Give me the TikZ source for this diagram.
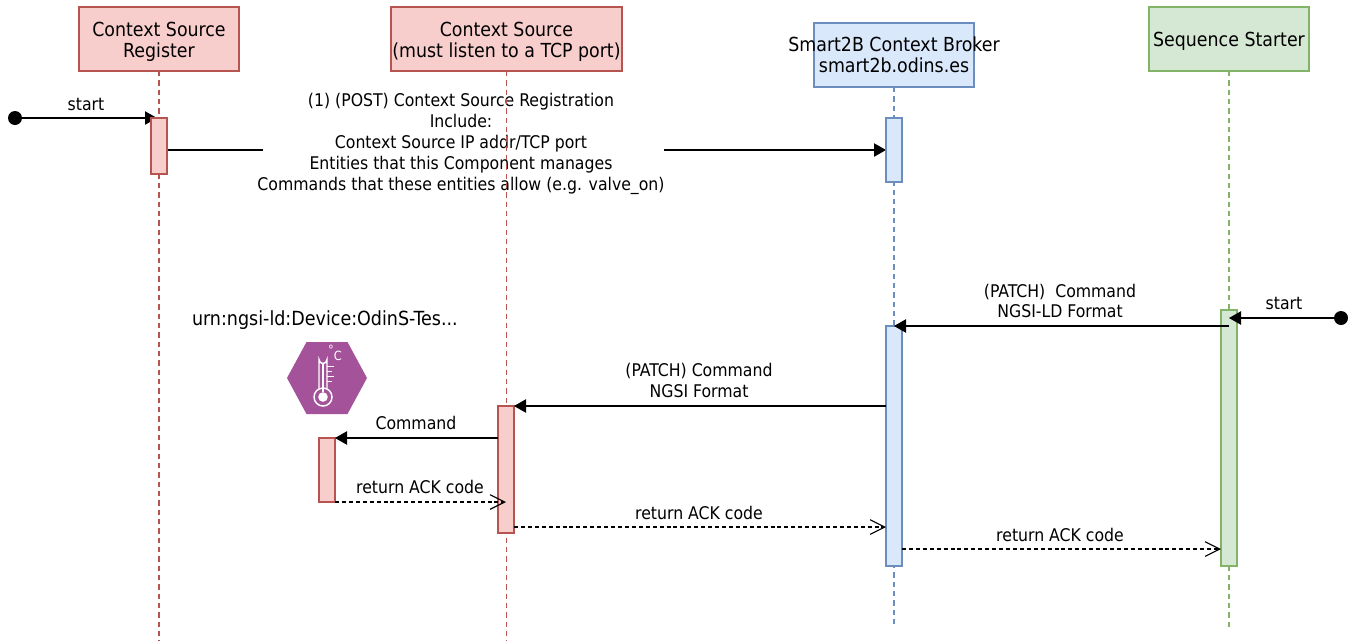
\documentclass[tikz,border=0pt]{standalone}
\usepackage{fontspec}
\setmainfont{DejaVu Sans Condensed}
\usetikzlibrary{arrows.meta}
\definecolor{redfill}{HTML}{F8CECC}
\definecolor{redline}{HTML}{B85450}
\definecolor{bluefill}{HTML}{DAE8FC}
\definecolor{blueline}{HTML}{6C8EBF}
\definecolor{greenfill}{HTML}{D5E8D4}
\definecolor{greenline}{HTML}{82B366}
\definecolor{hexfill}{HTML}{A4539B}
\newcommand{\downstrut}{\rule{0pt}{15pt}}
\tikzset{
  x=0.75pt,y=-0.75pt,
  every node/.style={inner sep=0pt,outer sep=0pt},
  head/.style={draw,line width=0.85pt,minimum width=120pt,minimum height=48pt,align=center,font=\fontsize{14.5}{15.7}\selectfont},
  redc/.style={draw=redline,fill=redfill},
  bluec/.style={draw=blueline,fill=bluefill},
  greenc/.style={draw=greenline,fill=greenfill},
  act/.style={draw,line width=0.85pt,minimum width=12pt},
  life/.style={line width=0.9pt,dash pattern=on 4pt off 3pt},
  msg/.style={align=center,font=\fontsize{13.1}{15.6}\selectfont},
  solidmsg/.style={line width=0.85pt,-{Triangle[length=9pt,width=10pt]}},
  retmsg/.style={line width=0.85pt,dash pattern=on 3pt off 2.2pt,-{Straight Barb[length=11pt,width=11pt,line width=0.85pt]}},
  startdot/.style={circle,fill=black,minimum size=10.5pt},
}
\begin{document}
\begin{tikzpicture}
\path[use as bounding box] (0,0) rectangle (1359,643);
% actors
\node[head,redc] (h1) at (159,39) {\downstrut Context Source\\Register};
\node[head,redc,minimum width=173.25pt] (h2) at (506.5,39) {\downstrut Context Source\\(must listen to a TCP port)};
\node[head,bluec] (h3) at (894,55) {\makebox[0pt]{Smart2B Context Broker}\\\makebox[0pt]{smart2b.odins.es}};
\node[head,greenc] (h4) at (1229,39) {\downstrut\makebox[0pt]{Sequence Starter}};
% free ends of the lifelines
\coordinate (e1) at (159,641);
\coordinate (e2) at (506.5,641);
\coordinate (e3) at (894,628);
\coordinate (e4) at (1229,628);
% start dots
\node[startdot] (s1) at (15,118) {};
\node[startdot] (s2) at (1341,318) {};
% first activation pair, placed before they are painted
\path (159,146) node[minimum width=12pt,minimum height=42pt] (a1p) {};
\path (894,150) node[minimum width=12pt,minimum height=48pt] (b1p) {};
% first message with its white gap
\draw[solidmsg] ([yshift=-3pt]a1p.east) -- node[pos=0.412,fill=white,minimum width=300.75pt,minimum height=15pt] (gap) {} (b1p.west);
\node[msg] (m1) at (461,144) {(1) (POST) Context Source Registration\\Include:\\Context Source IP addr/TCP port\\Entities that this Component manages\\Commands that these entities allow (e.g. valve\_on)};
% lifelines
\draw[life,redline] (h1.south) -- (e1);
\draw[life,redline] (h2.south) -- (e2);
\draw[life,blueline] (h3.south) -- (e3);
\draw[life,greenline] (h4.south) -- (e4);
% start arrow into first activation
\draw[solidmsg] (s1) -- ([xshift=-1.5pt]a1p.north);
\node[msg] (l1) at (86,104) {start};
% activations
\node[act,redc,minimum height=42pt] (a1) at (159,146) {};
\node[act,bluec,minimum height=48pt] (b1) at (894,150) {};
\node[act,greenc,minimum height=192pt] (g1) at (1229,438) {};
\node[act,bluec,minimum height=180pt] (b2) at (894,446) {};
\node[act,redc,minimum height=95.25pt] (c1) at (506,469.5) {};
\node[act,redc,minimum height=48pt] (d1) at (327,470) {};
% device
\fill[hexfill] (287,378) -- (306.5,342) -- (347.5,342) -- (367,378) -- (347.5,414) -- (306.5,414) -- cycle;
\begin{scope}[white,line width=1.1pt]
  \draw (319,388.5) -- (319,359.5) arc[start angle=180,end angle=0,radius=4] -- (327,388.5);
  \draw (323,397) circle[radius=9];
  \fill (323,397) circle[radius=4.8];
  \draw[line width=1.3pt] (323,364) -- (323,392);
  \draw (327,366.7) -- (334,366.7) (327,371.7) -- (332,371.7) (327,376.7) -- (334,376.7) (327,381.7) -- (332,381.7);
\end{scope}
\node[white,font=\fontsize{9.5}{10}\selectfont] (deg) at (335,353) {\raisebox{4pt}{°}C};
\node[anchor=west,font=\fontsize{14.6}{14}\selectfont] (urn) at (192,320) {urn:ngsi-ld:Device:OdinS-Tes...};
% messages
\draw[solidmsg] (s2) -- (g1.north |- s2);
\node[msg] (l2) at (1284,303) {start};
\draw[solidmsg] ([yshift=-12pt]g1.north) -- (b2.north);
\node[msg] (l3) at (1060,301) {(PATCH)~ Command\\NGSI-LD Format};
\draw[solidmsg] ([yshift=-60pt]b2.north west) -- (c1.north east);
\node[msg] (l4) at (699,380.5) {(PATCH) Command\\NGSI Format};
\draw[solidmsg] ([yshift=-24pt]c1.north west) -- (d1.north east);
\node[msg] (l5) at (416,423) {Command};
\draw[retmsg] (d1.south east) -- (d1.south east -| c1.center);
\node[msg] (l6) at (420,487) {return ACK code};
\draw[retmsg] ([yshift=4.5pt]c1.south east) -- ([yshift=4.5pt]c1.south east -| b2.west);
\node[msg] (l7) at (699,513) {return ACK code};
\draw[retmsg] ([yshift=12.75pt]b2.south east) -- ([yshift=12.75pt]b2.south east -| g1.west);
\node[msg] (l8) at (1060,535) {return ACK code};
\end{tikzpicture}
\end{document}
